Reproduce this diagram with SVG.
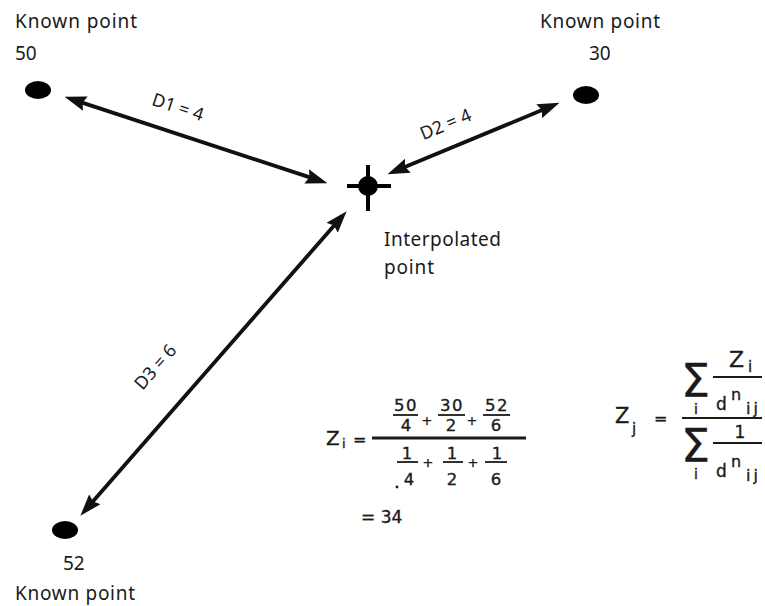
<svg xmlns="http://www.w3.org/2000/svg" width="765" height="606" viewBox="0 0 765 606">
  <style>
    .lbl { font-family: "Noto Sans", "DejaVu Sans", sans-serif; font-size: 19px; fill: #1a1a1a; }
    .dl { font-family: "Noto Sans", "DejaVu Sans", sans-serif; font-size: 18px; fill: #1a1a1a; }
    .f { font-family: "DejaVu Sans", sans-serif; fill: #1a1a1a; stroke: #1a1a1a; stroke-width: 0.35; }
    .dot { fill: #000; }
    .conn { stroke: #111; stroke-width: 3.8; fill: none; }
    .bar { stroke: #1a1a1a; fill: none; }
  </style>
  <defs>
    <marker id="ah" viewBox="0 0 22 15" markerWidth="22" markerHeight="15" markerUnits="userSpaceOnUse" refX="13" refY="7.5" orient="auto-start-reverse">
      <path d="M0,0 L22,7.5 L0,15 L3,7.5 z" fill="#111"/>
    </marker>
  </defs>
  <rect width="765" height="606" fill="#fff"/>

  <g id="known-50">
    <text class="lbl" x="15" y="28" textLength="122">Known point</text>
    <text class="lbl" x="15" y="60">50</text>
    <ellipse class="dot" cx="38" cy="90" rx="13" ry="9"/>
  </g>

  <g id="known-30">
    <text class="lbl" x="540" y="28" textLength="120">Known point</text>
    <text class="lbl" x="589" y="60">30</text>
    <ellipse class="dot" cx="586" cy="95" rx="13" ry="9"/>
  </g>

  <g id="known-52">
    <ellipse class="dot" cx="65" cy="530" rx="13" ry="9"/>
    <text class="lbl" x="63" y="570">52</text>
    <text class="lbl" x="15" y="600" textLength="120">Known point</text>
  </g>

  <g id="interpolated">
    <circle cx="368" cy="186" r="10" fill="#000"/>
    <line x1="347" y1="186" x2="391" y2="186" stroke="#000" stroke-width="4"/>
    <line x1="368" y1="165" x2="368" y2="211" stroke="#000" stroke-width="4"/>
    <text class="lbl" x="384" y="246" textLength="117">Interpolated</text>
    <text class="lbl" x="384" y="274" textLength="50">point</text>
  </g>

  <g id="connectors">
    <line class="conn" x1="73" y1="99.6" x2="319" y2="180.4" marker-start="url(#ah)" marker-end="url(#ah)"/>
    <line class="conn" x1="551.2" y1="106.3" x2="395.8" y2="170.7" marker-start="url(#ah)" marker-end="url(#ah)"/>
    <line class="conn" x1="340.7" y1="218" x2="86.3" y2="509" marker-start="url(#ah)" marker-end="url(#ah)"/>
    <text class="dl" text-anchor="middle" transform="translate(176,113) rotate(18.2)">D1 = 4</text>
    <text class="dl" text-anchor="middle" transform="translate(448,130) rotate(-22.5)">D2 = 4</text>
    <text class="dl" text-anchor="middle" transform="translate(160,371) rotate(-48.8)">D3 = 6</text>
  </g>

  <g id="formula-example">
    <text class="f" x="326" y="445" font-size="20">Z</text>
    <text class="f" x="342" y="448" font-size="13">i</text>
    <text class="f" x="353" y="445" font-size="16">=</text>
    <line class="bar" x1="372" y1="438" x2="526" y2="438" stroke-width="2.8"/>
    <g font-size="16.5" text-anchor="middle">
      <text class="f" x="406" y="411" letter-spacing="1.5">50</text>
      <text class="f" x="406" y="431">4</text>
      <text class="f" x="452" y="411" letter-spacing="1.5">30</text>
      <text class="f" x="451" y="431">2</text>
      <text class="f" x="497" y="411" letter-spacing="1.5">52</text>
      <text class="f" x="496" y="431">6</text>
      <text class="f" x="407" y="459">1</text>
      <text class="f" x="409" y="485">4</text>
      <text class="f" x="452" y="459">1</text>
      <text class="f" x="452" y="485">2</text>
      <text class="f" x="497" y="459">1</text>
      <text class="f" x="496" y="485">6</text>
    </g>
    <line class="bar" x1="393" y1="415" x2="418" y2="415" stroke-width="1.8"/>
    <line class="bar" x1="438" y1="415" x2="465" y2="415" stroke-width="1.8"/>
    <line class="bar" x1="483" y1="415" x2="510" y2="415" stroke-width="1.8"/>
    <line class="bar" x1="397" y1="462" x2="418" y2="462" stroke-width="1.8"/>
    <line class="bar" x1="443" y1="462" x2="463" y2="462" stroke-width="1.8"/>
    <line class="bar" x1="485" y1="462" x2="507" y2="462" stroke-width="1.8"/>
    <g font-size="13" text-anchor="middle">
      <text class="f" x="427" y="425">+</text>
      <text class="f" x="472" y="425">+</text>
      <text class="f" x="428" y="467">+</text>
      <text class="f" x="473" y="467">+</text>
    </g>
    <circle cx="397" cy="487" r="1.4" fill="#1a1a1a"/>
    <text class="f" x="361" y="523" font-size="17">= 34</text>
  </g>

  <g id="formula-idw">
    <text class="f" x="615" y="423" font-size="21">Z</text>
    <text class="f" x="632" y="434" font-size="15">j</text>
    <text class="f" x="654" y="424" font-size="16">=</text>
    <line class="bar" x1="682" y1="418" x2="762" y2="418" stroke-width="2.2"/>
    <text class="f" x="681" y="397" font-size="46">Σ</text>
    <text class="f" x="696" y="414" font-size="14" text-anchor="middle">i</text>
    <line class="bar" x1="713" y1="377" x2="762" y2="377" stroke-width="1.8"/>
    <text class="f" x="729" y="367" font-size="22">Z</text>
    <text class="f" x="748" y="372" font-size="15">i</text>
    <text class="f" x="716" y="410" font-size="17">d</text>
    <text class="f" x="731" y="400" font-size="16">n</text>
    <text class="f" x="746" y="414" font-size="16" letter-spacing="3">ij</text>
    <text class="f" x="681" y="462" font-size="46">Σ</text>
    <text class="f" x="696" y="479" font-size="14" text-anchor="middle">i</text>
    <line class="bar" x1="713" y1="443" x2="762" y2="443" stroke-width="1.8"/>
    <text class="f" x="740" y="438" font-size="17" text-anchor="middle">1</text>
    <text class="f" x="716" y="477" font-size="17">d</text>
    <text class="f" x="731" y="467" font-size="16">n</text>
    <text class="f" x="746" y="481" font-size="16" letter-spacing="3">ij</text>
  </g>
</svg>
